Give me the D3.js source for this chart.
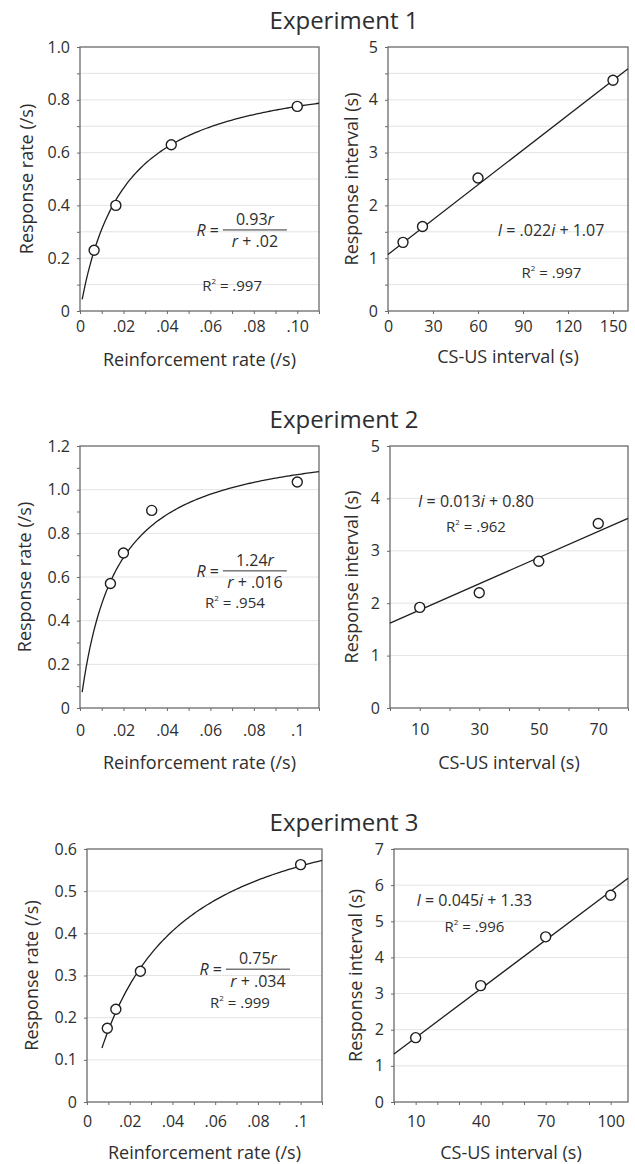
<!DOCTYPE html>
<html>
<head>
<meta charset="utf-8">
<script src="https://cdn.jsdelivr.net/npm/d3@7"></script>
<style>
  body { margin: 0; background: #fff; }
  text { font-family: "Open Sans", sans-serif; fill: #2e2e2e; }
</style>
</head>
<body>
<svg id="chart" width="635" height="1164"></svg>
<script>
// ---- data ----
const experiments = ['Experiment 1', 'Experiment 2', 'Experiment 3'];

// Experiment 1
const exp1Rate = [0.0065, 0.0165, 0.042, 0.100];
const exp1Response = [0.23, 0.40, 0.63, 0.775];
const exp1CsUs = [10, 23, 60, 150];
const exp1Interval = [1.30, 1.60, 2.52, 4.37];
const exp1Hyper = [0.93, 0.02];            // R = a*r / (r + c)
const exp1HyperSpan = [0.001, 0.11];
const exp1Line = [0.022, 1.07];            // slope, intercept
const exp1LineSpan = [0, 160];

// Experiment 2
const exp2Rate = [0.014, 0.020, 0.033, 0.100];
const exp2Response = [0.57, 0.71, 0.905, 1.035];
const exp2CsUs = [10, 30, 50, 70];
const exp2Interval = [1.92, 2.20, 2.80, 3.52];
const exp2Hyper = [1.24, 0.016];
const exp2HyperSpan = [0.001, 0.11];
const exp2Line = [0.025, 1.62];            // drawn line as it appears in the plot
const exp2LineSpan = [0, 80];

// Experiment 3
const exp3Rate = [0.0095, 0.0135, 0.025, 0.100];
const exp3Response = [0.175, 0.22, 0.31, 0.563];
const exp3CsUs = [10, 40, 70, 100];
const exp3Interval = [1.78, 3.22, 4.57, 5.72];
const exp3Hyper = [0.75, 0.034];
const exp3HyperSpan = [0.007, 0.11];
const exp3Line = [0.045, 1.33];
const exp3LineSpan = [0, 108];

// tick labels
const rateTicks1 = [0, .02, .04, .06, .08, .10];
const rateLabels1 = ['0', '.02', '.04', '.06', '.08', '.10'];
const rateTicks23 = [0, .02, .04, .06, .08, .1];
const rateLabels23 = ['0', '.02', '.04', '.06', '.08', '.1'];
const resp1Ticks = [0, 0.2, 0.4, 0.6, 0.8, 1.0];
const resp1Labels = ['0', '0.2', '0.4', '0.6', '0.8', '1.0'];
const resp2Ticks = [0, 0.2, 0.4, 0.6, 0.8, 1.0, 1.2];
const resp2Labels = ['0', '0.2', '0.4', '0.6', '0.8', '1.0', '1.2'];
const resp3Ticks = [0, 0.1, 0.2, 0.3, 0.4, 0.5, 0.6];
const resp3Labels = ['0', '0.1', '0.2', '0.3', '0.4', '0.5', '0.6'];
const csus1Ticks = [0, 30, 60, 90, 120, 150];
const csus2Ticks = [10, 30, 50, 70];
const csus3Ticks = [10, 40, 70, 100];
const int1Ticks = [0, 1, 2, 3, 4, 5];
const int3Ticks = [0, 1, 2, 3, 4, 5, 6, 7];

// annotation text
const exp1Text = ['0.93', '.02', '.997', '.022', '1.07', '.997'];
const exp2Text = ['1.24', '.016', '.954', '0.013', '0.80', '.962'];
const exp3Text = ['0.75', '.034', '.999', '0.045', '1.33', '.996'];

// ---- drawing ----
const svg = d3.select('#chart');
const ink = '#1e1e1e';
const frame = '#6a6a6a';

function drawPanel(p) {
  const [l, r, t, b] = p.box;
  const x = d3.scaleLinear().domain(p.xDomain).range([l, r]);
  const y = d3.scaleLinear().domain(p.yDomain).range([b, t]);
  const g = svg.append('g');

  // light horizontal grid
  g.append('g').selectAll('line').data(p.grid).join('line')
    .attr('x1', l).attr('x2', r)
    .attr('y1', d => y(d)).attr('y2', d => y(d))
    .attr('stroke', '#e3e3e3').attr('stroke-width', 1);

  // small tick marks
  const xm = g.append('g').attr('transform', `translate(0,${b})`)
    .call(d3.axisBottom(x).tickValues(p.xMinor).tickSize(3).tickFormat(''));
  const ym = g.append('g').attr('transform', `translate(${l},0)`)
    .call(d3.axisLeft(y).tickValues(p.yMinor).tickSize(3).tickFormat(''));
  [xm, ym].forEach(a => {
    a.select('.domain').remove();
    a.selectAll('line').attr('stroke', frame);
  });

  // labelled ticks
  const xa = g.append('g').attr('transform', `translate(0,${b})`)
    .call(d3.axisBottom(x).tickValues(p.xTicks).tickSize(0).tickPadding(p.xPad)
      .tickFormat((d, i) => p.xLabels[i]));
  const ya = g.append('g').attr('transform', `translate(${l},0)`)
    .call(d3.axisLeft(y).tickValues(p.yTicks).tickSize(0).tickPadding(10)
      .tickFormat((d, i) => p.yLabels[i]));
  [xa, ya].forEach(a => {
    a.select('.domain').remove();
    a.selectAll('text').attr('font-size', 16).attr('font-family', '"Open Sans", sans-serif').attr('fill', '#2e2e2e');
  });

  // frame
  g.append('rect').attr('x', l).attr('y', t).attr('width', r - l).attr('height', b - t)
    .attr('fill', 'none').attr('stroke', frame).attr('stroke-width', 1.3);

  // axis titles
  g.append('text').attr('x', (l + r) / 2).attr('y', b + p.xTitleDy)
    .attr('text-anchor', 'middle').attr('font-size', 18).text(p.xTitle);
  g.append('text')
    .attr('transform', `translate(${l - p.yTitleDx},${(t + b) / 2}) rotate(-90)`)
    .attr('text-anchor', 'middle').attr('dy', '0.35em').attr('font-size', 18).text(p.yTitle);

  return { g, x, y };
}

function drawHyperPanel(p) {
  const { g, x, y } = drawPanel(p);
  const [a, c] = p.fit;
  const rs = d3.range(p.span[0], p.span[1] + 1e-9, (p.span[1] - p.span[0]) / 120);
  g.append('path').datum(rs)
    .attr('fill', 'none').attr('stroke', ink).attr('stroke-width', 1.3)
    .attr('d', d3.line().x(d => x(d)).y(d => y(a * d / (d + c))));
  g.append('g').selectAll('circle').data(p.xs).join('circle')
    .attr('cx', d => x(d)).attr('cy', (d, i) => y(p.ys[i])).attr('r', 5)
    .attr('fill', '#fff').attr('stroke', ink).attr('stroke-width', 1.4);

  // equation R = a r / (r + c)
  const cx = x(p.eq[0]), by = y(p.eq[1]);
  g.append('line').attr('x1', cx - 32).attr('x2', cx + 32).attr('y1', by).attr('y2', by)
    .attr('stroke', '#333').attr('stroke-width', 1);
  const num = g.append('text').attr('x', cx).attr('y', by - 5).attr('text-anchor', 'middle').attr('font-size', 16);
  num.append('tspan').text(p.text[0]);
  num.append('tspan').attr('font-style', 'italic').text('r');
  const den = g.append('text').attr('x', cx).attr('y', by + 17.5).attr('text-anchor', 'middle').attr('font-size', 16);
  den.append('tspan').attr('font-style', 'italic').text('r');
  den.append('tspan').text(' + ' + p.text[1]);
  const lhs = g.append('text').attr('x', cx - 36).attr('y', by + 6).attr('text-anchor', 'end').attr('font-size', 16);
  lhs.append('tspan').attr('font-style', 'italic').text('R');
  lhs.append('tspan').text(' =');
  rSquared(g, x(p.r2[0]), y(p.r2[1]), p.text[2]);
}

function drawLinePanel(p) {
  const { g, x, y } = drawPanel(p);
  const [m, k] = p.fit;
  g.append('path').datum(p.span)
    .attr('fill', 'none').attr('stroke', ink).attr('stroke-width', 1.3)
    .attr('d', d3.line().x(d => x(d)).y(d => y(m * d + k)));
  g.append('g').selectAll('circle').data(p.xs).join('circle')
    .attr('cx', d => x(d)).attr('cy', (d, i) => y(p.ys[i])).attr('r', 5)
    .attr('fill', '#fff').attr('stroke', ink).attr('stroke-width', 1.4);

  const eq = g.append('text').attr('x', x(p.eq[0])).attr('y', y(p.eq[1]))
    .attr('text-anchor', 'middle').attr('font-size', 16);
  eq.append('tspan').attr('font-style', 'italic').text('I');
  eq.append('tspan').text(' = ' + p.text[3]);
  eq.append('tspan').attr('font-style', 'italic').text('i');
  eq.append('tspan').text(' + ' + p.text[4]);
  rSquared(g, x(p.r2[0]), y(p.r2[1]), p.text[5]);
}

function rSquared(g, px, py, val) {
  const t = g.append('text').attr('x', px).attr('y', py).attr('text-anchor', 'middle').attr('font-size', 15);
  t.append('tspan').text('R');
  t.append('tspan').attr('font-size', 8).attr('dy', -7).text('2');
  t.append('tspan').attr('dy', 7).text(' = ' + val);
}

// titles
const titleY = [29, 428, 831];
svg.selectAll('text.title').data(experiments).join('text')
  .attr('class', 'title').attr('x', 344).attr('y', (d, i) => titleY[i])
  .attr('text-anchor', 'middle').attr('font-size', 24).text(d => d);

const rateTitle = 'Reinforcement rate (/s)';
const respTitle = 'Response rate (/s)';
const csTitle = 'CS-US interval (s)';
const intTitle = 'Response interval (s)';

// Experiment 1
drawHyperPanel({
  box: [80, 319, 47, 311], xDomain: [0, 0.11], yDomain: [0, 1],
  grid: d3.range(0.1, 1, 0.1), xMinor: d3.range(0, 0.111, 0.01), yMinor: d3.range(0, 1.01, 0.1),
  xTicks: rateTicks1, xLabels: rateLabels1, yTicks: resp1Ticks, yLabels: resp1Labels, xPad: 10,
  xTitle: rateTitle, yTitle: respTitle, xTitleDy: 55, yTitleDx: 53,
  xs: exp1Rate, ys: exp1Response, fit: exp1Hyper, span: exp1HyperSpan,
  eq: [0.0805, 0.307], r2: [0.070, 0.076], text: exp1Text
});
drawLinePanel({
  box: [388, 628, 47, 311], xDomain: [0, 160], yDomain: [0, 5],
  grid: d3.range(0.5, 5, 0.5), xMinor: d3.range(0, 161, 30), yMinor: d3.range(0, 5.01, 0.5),
  xTicks: csus1Ticks, xLabels: csus1Ticks.map(String), yTicks: int1Ticks, yLabels: int1Ticks.map(String), xPad: 10,
  xTitle: csTitle, yTitle: intTitle, xTitleDy: 52, yTitleDx: 36,
  xs: exp1CsUs, ys: exp1Interval, fit: exp1Line, span: exp1LineSpan,
  eq: [108.7, 1.42], r2: [109, 0.625], text: exp1Text
});

// Experiment 2
drawHyperPanel({
  box: [80, 319, 446, 708], xDomain: [0, 0.11], yDomain: [0, 1.2],
  grid: d3.range(0.2, 1.2, 0.2), xMinor: d3.range(0, 0.111, 0.01), yMinor: d3.range(0, 1.21, 0.1),
  xTicks: rateTicks23, xLabels: rateLabels23, yTicks: resp2Ticks, yLabels: resp2Labels, xPad: 17,
  xTitle: rateTitle, yTitle: respTitle, xTitleDy: 61, yTitleDx: 55,
  xs: exp2Rate, ys: exp2Response, fit: exp2Hyper, span: exp2HyperSpan,
  eq: [0.0805, 0.628], r2: [0.0713, 0.458], text: exp2Text
});
drawLinePanel({
  box: [390, 628, 446, 708], xDomain: [0, 80], yDomain: [0, 5],
  grid: d3.range(1, 5, 1), xMinor: d3.range(0, 81, 10), yMinor: d3.range(0, 5.01, 1),
  xTicks: csus2Ticks, xLabels: csus2Ticks.map(String), yTicks: int1Ticks, yLabels: int1Ticks.map(String), xPad: 16,
  xTitle: csTitle, yTitle: intTitle, xTitleDy: 61, yTitleDx: 38,
  xs: exp2CsUs, ys: exp2Interval, fit: exp2Line, span: exp2LineSpan,
  eq: [28.9, 3.84], r2: [28.9, 3.36], text: exp2Text
});

// Experiment 3
drawHyperPanel({
  box: [87, 322, 849, 1102], xDomain: [0, 0.11], yDomain: [0, 0.6],
  grid: d3.range(0.1, 0.6, 0.1), xMinor: d3.range(0, 0.111, 0.01), yMinor: d3.range(0, 0.61, 0.1),
  xTicks: rateTicks23, xLabels: rateLabels23, yTicks: resp3Ticks, yLabels: resp3Labels, xPad: 14,
  xTitle: rateTitle, yTitle: respTitle, xTitleDy: 57, yTitleDx: 55,
  xs: exp3Rate, ys: exp3Response, fit: exp3Hyper, span: exp3HyperSpan,
  eq: [0.080, 0.315], r2: [0.0716, 0.223], text: exp3Text
});
drawLinePanel({
  box: [394, 628, 849, 1102], xDomain: [0, 108], yDomain: [0, 7],
  grid: d3.range(1, 7, 1), xMinor: d3.range(0, 108, 10), yMinor: d3.range(0, 7.01, 1),
  xTicks: csus3Ticks, xLabels: csus3Ticks.map(String), yTicks: int3Ticks, yLabels: int3Ticks.map(String), xPad: 14,
  xTitle: csTitle, yTitle: intTitle, xTitleDy: 57, yTitleDx: 38,
  xs: exp3CsUs, ys: exp3Interval, fit: exp3Line, span: exp3LineSpan,
  eq: [37.1, 5.42], r2: [37.1, 4.70], text: exp3Text
});
</script>
</body>
</html>
